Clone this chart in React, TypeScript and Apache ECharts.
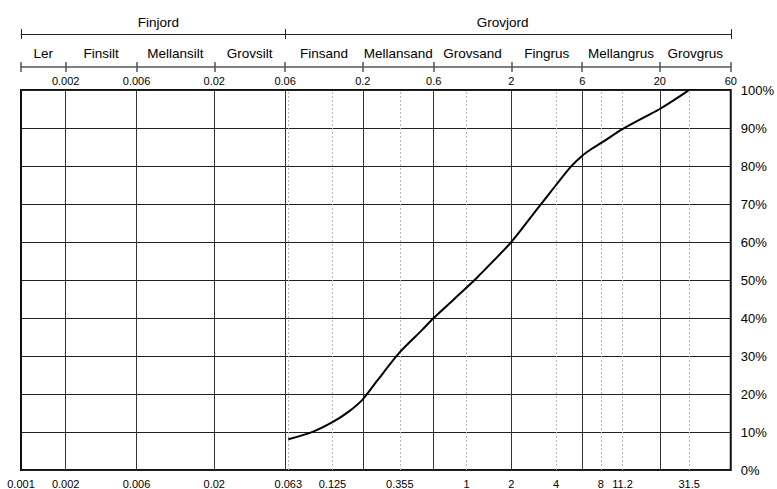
import React, { useEffect, useRef } from "react";
import * as echarts from "echarts";

const FONT = 'Arial, "Liberation Sans", Helvetica, sans-serif';

// Sieve analysis: grain size (mm) against cumulative passing (%)
const grainSizes = [0.063, 0.09, 0.125, 0.16, 0.2, 0.25, 0.355, 0.5, 0.6, 1, 1.2, 2, 3, 4, 5, 6, 7, 8, 11.2, 16, 20, 25, 31.5];
const passing = [8.1, 9.9, 12.6, 15.3, 18.6, 23.5, 31, 36.8, 40, 48, 51, 60, 68.8, 75, 79.7, 82.7, 84.6, 86, 89.7, 93, 95, 97.4, 100];

// Soil fraction limits (mm) and names
const fractionBounds = [0.001, 0.002, 0.006, 0.02, 0.06, 0.2, 0.6, 2, 6, 20, 60];
const fractionNames = ["Ler", "Finsilt", "Mellansilt", "Grovsilt", "Finsand", "Mellansand", "Grovsand", "Fingrus", "Mellangrus", "Grovgrus"];

// Main groups
const groupBounds = [0.001, 0.06, 60];
const groupNames = ["Finjord", "Grovjord"];
const groupLabelAt = [0.0084, 1.75];

// Sieve sizes shown along the bottom, and the sieve sizes drawn as dotted lines
const sieveLabels = [0.001, 0.002, 0.006, 0.02, 0.063, 0.125, 0.355, 1, 2, 4, 8, 11.2, 31.5];
const sieveLines = [0.063, 0.125, 0.355, 1, 4, 8, 11.2, 31.5];

const fractionMids = fractionNames.map((_, i) => Math.sqrt(fractionBounds[i] * fractionBounds[i + 1]));

const nearestIndex = (arr: number[], v: number) => {
  let best = 0;
  let bestD = Infinity;
  arr.forEach((a, i) => {
    const d = Math.abs(Math.log(a) - Math.log(v));
    if (d < bestD) {
      bestD = d;
      best = i;
    }
  });
  return best;
};

const fmtNum = (v: number) => String(parseFloat(Number(v).toPrecision(6)));

export default function App() {
  const ref = useRef<HTMLDivElement>(null);

  useEffect(() => {
    if (!ref.current) return;
    const chart = echarts.init(ref.current, undefined, { renderer: "svg" });

    const baseLog = {
      type: "log" as const,
      logBase: 10,
      min: 0.001,
      max: 60,
      gridIndex: 0,
      splitLine: { show: false },
      minorTick: { show: false },
      minorSplitLine: { show: false },
    };

    const solidLines = fractionBounds.slice(1, -1);

    chart.setOption({
      animation: false,
      textStyle: { fontFamily: FONT, color: "#000" },
      grid: {
        left: 21,
        right: 43,
        top: 90,
        bottom: 19,
        show: true,
        borderColor: "#111",
        borderWidth: 2,
        backgroundColor: "transparent",
      },
      xAxis: [
        {
          ...baseLog,
          position: "bottom",
          axisLine: { show: false },
          axisTick: { show: false },
          axisLabel: {
            customValues: sieveLabels,
            fontSize: 11,
            color: "#000",
            fontFamily: FONT,
            margin: 8,
            formatter: (v: number) => fmtNum(v),
          },
        },
        {
          ...baseLog,
          position: "top",
          offset: 23,
          axisLine: { show: true, lineStyle: { color: "#555", width: 1.5 } },
          axisTick: { show: true, inside: false, length: 5, customValues: fractionBounds, lineStyle: { color: "#555", width: 1.5 } },
          axisLabel: {
            inside: true,
            customValues: fractionBounds.slice(1),
            fontSize: 11,
            color: "#000",
            fontFamily: FONT,
            margin: 8,
            formatter: (v: number) => fmtNum(v),
          },
        },
        {
          ...baseLog,
          position: "top",
          offset: 23,
          axisLine: { show: false },
          axisTick: { show: true, inside: true, length: 5, customValues: fractionBounds, lineStyle: { color: "#555", width: 1.5 } },
          axisLabel: {
            customValues: fractionMids,
            fontSize: 13.5,
            color: "#000",
            fontFamily: FONT,
            margin: 7,
            formatter: (v: number) => fractionNames[nearestIndex(fractionMids, v)],
          },
        },
        {
          ...baseLog,
          position: "top",
          offset: 56,
          axisLine: { show: true, lineStyle: { color: "#222", width: 1 } },
          axisTick: { show: true, inside: false, length: 5, customValues: groupBounds, lineStyle: { color: "#222", width: 1 } },
          axisLabel: {
            customValues: groupLabelAt,
            fontSize: 13.5,
            color: "#000",
            fontFamily: FONT,
            margin: 5,
            formatter: (v: number) => groupNames[nearestIndex(groupLabelAt, v)],
          },
        },
        {
          ...baseLog,
          position: "top",
          offset: 56,
          axisLine: { show: false },
          axisTick: { show: true, inside: true, length: 5, customValues: groupBounds, lineStyle: { color: "#222", width: 1 } },
          axisLabel: { show: false },
        },
      ],
      yAxis: [
        {
          type: "value",
          position: "right",
          min: 0,
          max: 100,
          interval: 10,
          axisLine: { show: false },
          axisTick: { show: false },
          axisLabel: {
            formatter: "{value}%",
            fontSize: 13,
            color: "#000",
            fontFamily: FONT,
            margin: 10,
          },
          splitLine: { show: true, lineStyle: { color: "#222", width: 1 } },
        },
      ],
      series: [
        {
          type: "line",
          xAxisIndex: 0,
          yAxisIndex: 0,
          data: grainSizes.map((x, i) => [x, passing[i]]),
          showSymbol: false,
          smooth: 0.25,
          lineStyle: { color: "#000", width: 2 },
          z: 3,
          markLine: {
            z: 1,
            silent: true,
            precision: 6,
            symbol: ["none", "none"],
            label: { show: false },
            animation: false,
            data: [
              ...solidLines.map((v) => ({ xAxis: v, lineStyle: { color: "#333", width: 1, type: "solid" } })),
              ...sieveLines.map((v) => ({ xAxis: v, lineStyle: { color: "#bbb", width: 1, type: [2, 2] } })),
            ],
          },
        },
      ],
    });

    return () => chart.dispose();
  }, []);

  return (
    <div
      ref={ref}
      style={{ position: "fixed", left: 0, top: 0, width: 777, height: 489, background: "#fff" }}
    />
  );
}
